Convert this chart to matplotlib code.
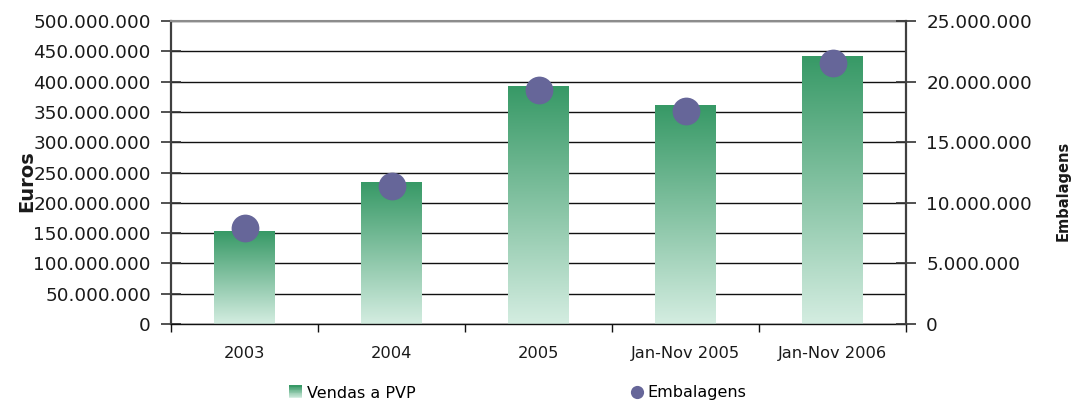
import numpy as np
import matplotlib
matplotlib.use('Agg')
import matplotlib.pyplot as plt
from matplotlib.colors import LinearSegmentedColormap
from matplotlib.ticker import FuncFormatter, MultipleLocator
from matplotlib.legend_handler import HandlerBase
from matplotlib.patches import Rectangle
from matplotlib.lines import Line2D

categories = ['2003', '2004', '2005', 'Jan-Nov 2005', 'Jan-Nov 2006']
vendas = [153e6, 234e6, 392e6, 360e6, 442e6]
embalagens = [7.9e6, 11.35e6, 19.3e6, 17.6e6, 21.55e6]

plt.rcParams['font.family'] = ['DejaVu Sans']
W, H = 1071, 403
fig = plt.figure(figsize=(W / 100, H / 100), dpi=100)
ax = fig.add_axes([171 / W, 1 - 324 / H, (906 - 171) / W, (324 - 21) / H])

cmap = LinearSegmentedColormap.from_list('g', ['#d4ede1', '#379966'])
x = np.arange(len(categories))
bw = 0.41
bars = ax.bar(x, vendas, width=bw, color='none', edgecolor='none', zorder=2)
grad = np.linspace(0, 1, 256).reshape(-1, 1)
for b in bars:
    x0, y0 = b.get_x(), b.get_y()
    ax.imshow(grad, cmap=cmap, origin='lower', aspect='auto',
              extent=[x0, x0 + b.get_width(), y0, y0 + b.get_height()],
              zorder=2, interpolation='bilinear')

ax.set_xlim(-0.5, len(categories) - 0.5)
ax.set_ylim(0, 500e6)
fmt = FuncFormatter(lambda v, p: f"{int(round(v)):,}".replace(',', '.'))
ax.yaxis.set_major_locator(MultipleLocator(50e6))
ax.yaxis.set_major_formatter(fmt)
ax.set_axisbelow(True)
ax.yaxis.grid(True, color='#111111', lw=1.0)

ax.set_xticks(x)
ax.set_xticklabels(categories)
ax.set_xticks(np.arange(-0.5, len(categories), 1), minor=True)
ax.tick_params(axis='x', which='major', length=0, pad=16, labelsize=11.7, colors='#1a1a1a')
ax.tick_params(axis='x', which='minor', length=6, width=1, direction='out', color='#111111')
ax.tick_params(axis='y', direction='inout', length=15, width=1.2, pad=7, labelsize=13.2,
               color='#333333', labelcolor='#1a1a1a')

ax.spines['left'].set_color('#404040')
ax.spines['left'].set_linewidth(1.6)
ax.spines['right'].set_visible(False)
ax.spines['top'].set_color('#8c8c8c')
ax.spines['top'].set_linewidth(1.5)
ax.spines['bottom'].set_color('#111111')
ax.spines['bottom'].set_linewidth(1.0)

ax2 = ax.twinx()
ax2.set_ylim(0, 25e6)
ax2.yaxis.set_major_locator(MultipleLocator(5e6))
ax2.yaxis.set_major_formatter(fmt)
ax2.plot(x, embalagens, 'o', ms=20, color='#666699', mec='none', ls='none', zorder=3)
ax2.tick_params(axis='y', direction='inout', length=15, width=1.2, pad=7, labelsize=13.2,
                color='#333333', labelcolor='#1a1a1a')
for s in ['left', 'top', 'bottom']:
    ax2.spines[s].set_visible(False)
ax2.spines['right'].set_color('#404040')
ax2.spines['right'].set_linewidth(1.6)

fig.text(27 / W, 1 - 181 / H, 'Euros', rotation=90, ha='center', va='center',
         fontsize=14, fontweight='bold', color='#1a1a1a')
fig.text(1063 / W, 1 - 191 / H, 'Embalagens', rotation=90, ha='center', va='center',
         fontsize=10.5, fontweight='bold', color='#1a1a1a')


class GradHandler(HandlerBase):
    def create_artists(self, legend, orig_handle, xdescent, ydescent, width, height, fontsize, trans):
        n = 16
        arts = []
        for i in range(n):
            r = Rectangle((-xdescent, -ydescent + height * i / n), width, height / n + 0.3,
                          facecolor=cmap(i / (n - 1)), edgecolor='none', transform=trans)
            arts.append(r)
        return arts


h1 = Rectangle((0, 0), 1, 1)
leg1 = fig.legend([h1], ['Vendas a PVP'], handler_map={Rectangle: GradHandler()},
                  loc='center left', bbox_to_anchor=(289 / W, 1 - 393 / H), frameon=False,
                  borderpad=0, borderaxespad=0, handlelength=0.8, handleheight=0.8,
                  handletextpad=0.3, fontsize=11.5)
h2 = Line2D([], [], marker='o', ls='none', ms=9.5, color='#666699', mec='none')
leg2 = fig.legend([h2], ['Embalagens'], loc='center left', bbox_to_anchor=(630 / W, 1 - 393 / H),
                  frameon=False, borderpad=0, borderaxespad=0, handlelength=0.85,
                  handletextpad=0.25, fontsize=11.5)

fig.savefig('out.png', dpi=100)
